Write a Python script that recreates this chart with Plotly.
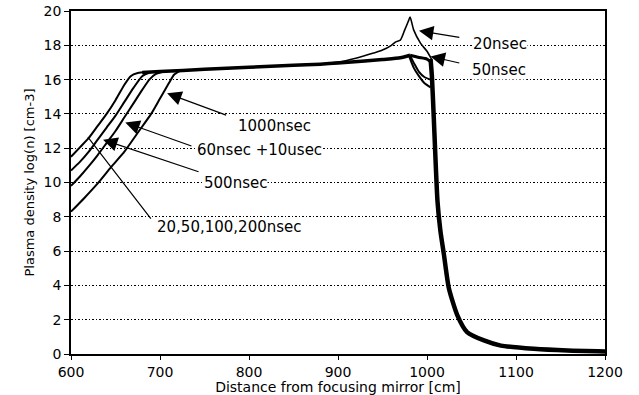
import plotly.graph_objects as go

# ---- data ----
# rising fronts (left side)
x_front_a = [600, 610, 620, 630, 640, 650, 660, 667, 675, 685]
y_front_a = [11.5, 12.05, 12.6, 13.3, 14.0, 14.8, 15.7, 16.2, 16.38, 16.44]   # 20,50,100,200 nsec
x_front_b = [600, 610, 620, 630, 640, 650, 660, 670, 680, 690]
y_front_b = [10.7, 11.2, 11.8, 12.5, 13.2, 13.9, 14.7, 15.5, 16.2, 16.44]     # 500 nsec
x_front_c = [600, 610, 620, 630, 640, 650, 660, 670, 680, 688, 695, 705]
y_front_c = [9.8, 10.35, 10.95, 11.6, 12.3, 13.0, 13.8, 14.6, 15.4, 16.0, 16.32, 16.47]  # 60nsec+10usec
x_front_d = [600, 615, 630, 645, 660, 675, 690, 700, 710, 716, 722]
y_front_d = [8.3, 9.1, 9.95, 10.9, 11.8, 12.9, 14.0, 14.9, 15.8, 16.3, 16.5]  # 1000 nsec

# common plateau
x_plateau = [680, 700, 750, 800, 850, 880, 900, 930, 950, 970, 981]
y_plateau = [16.42, 16.47, 16.6, 16.72, 16.83, 16.9, 16.97, 17.08, 17.17, 17.27, 17.42]

# 20 nsec spike
x_spike20 = [880, 900, 920, 940, 950, 960, 965, 970, 975, 979, 981, 985, 993, 1000, 1005]
y_spike20 = [16.9, 17.02, 17.25, 17.55, 17.72, 18.0, 18.2, 18.3, 18.9, 19.4, 19.65, 18.9, 18.1, 17.65, 17.2]

# branches after the peak
x_branch50 = [981, 990, 1000, 1005]
y_branch50 = [17.42, 17.3, 17.2, 17.0]
x_branch100 = [981, 986, 991, 997, 1004]
y_branch100 = [17.4, 16.9, 16.45, 16.15, 16.0]
x_branch200 = [980, 985, 991, 997, 1004]
y_branch200 = [17.35, 16.7, 16.2, 15.8, 15.55]

# common fall-off
x_tail = [1004, 1005.5, 1007.6, 1011.8, 1015, 1019, 1024.5, 1034, 1045, 1064, 1083, 1120, 1158, 1200]
y_tail = [17.2, 16.2, 13.8, 8.9, 7.2, 5.8, 3.85, 2.27, 1.28, 0.79, 0.49, 0.3, 0.2, 0.15]

x_ticks = [600, 700, 800, 900, 1000, 1100, 1200]
y_ticks = [0, 2, 4, 6, 8, 10, 12, 14, 16, 18, 20]

FONT = "DejaVu Sans"
fig = go.Figure()

def line(x, y, w, shape="spline"):
    fig.add_trace(go.Scatter(x=x, y=y, mode="lines",
                             line=dict(color="black", width=w, shape=shape, smoothing=0.6),
                             showlegend=False, hoverinfo="skip"))

line(x_front_a, y_front_a, 2)
line(x_front_b, y_front_b, 2)
line(x_front_c, y_front_c, 2)
line(x_front_d, y_front_d, 2)
line(x_plateau, y_plateau, 3.5)
line(x_spike20, y_spike20, 1.6)
line(x_branch50, y_branch50, 3)
line(x_branch100, y_branch100, 2)
line(x_branch200, y_branch200, 2)
line(x_tail, y_tail, 4.5)

# arrows: (tip x, tip y, tail x, tail y)
arrows = [
    (991, 18.85, 1038, 18.45),
    (1004, 17.35, 1038, 16.95),
    (708, 15.2, 776, 13.9),
    (661, 13.5, 737, 12.1),
    (636, 12.5, 745, 10.6),
]
for tx, ty, ax, ay in arrows:
    fig.add_annotation(x=tx, y=ty, ax=ax, ay=ay, xref="x", yref="y", axref="x", ayref="y",
                       text="", showarrow=True, arrowhead=2, arrowsize=2.4, arrowwidth=1.2,
                       arrowcolor="black", standoff=0)
# plain pointer line for 20,50,100,200nsec
fig.add_annotation(x=619, y=12.65, ax=691, ay=7.8, xref="x", yref="y", axref="x", ayref="y",
                   text="", showarrow=True, arrowhead=0, arrowwidth=1.2, arrowcolor="black", standoff=0)

labels = [
    ("20nsec", 1051, 18.1),
    ("50nsec", 1049, 16.55),
    ("1000nsec", 787, 13.3),
    ("60nsec +10usec", 740, 11.9),
    ("500nsec", 748, 10.0),
    ("20,50,100,200nsec", 696, 7.4),
]
for t, x, y in labels:
    fig.add_annotation(x=x, y=y, xref="x", yref="y", text=t, showarrow=False, xanchor="left",
                       yanchor="middle", bgcolor="white", borderpad=0,
                       font=dict(family=FONT, size=15, color="black"))

fig.update_layout(
    width=639, height=395,
    margin=dict(l=71, r=34, t=11, b=41),
    paper_bgcolor="white", plot_bgcolor="white",
    font=dict(family=FONT, color="black"),
    xaxis=dict(range=[600, 1200], tickvals=x_ticks, ticktext=[str(v) for v in x_ticks],
               ticks="outside", ticklen=4, tickwidth=1, tickcolor="black",
               showline=True, mirror=True, linecolor="black", linewidth=1.5,
               showgrid=False, zeroline=False, tickfont=dict(size=14), automargin=False,
               title=dict(text="Distance from focusing mirror [cm]", font=dict(size=14), standoff=2)),
    yaxis=dict(range=[0, 20], tickvals=y_ticks, ticktext=[str(v) for v in y_ticks],
               ticks="outside", ticklen=5, tickwidth=1, tickcolor="black",
               showline=True, mirror=True, linecolor="black", linewidth=1.5,
               showgrid=True, gridcolor="black", gridwidth=1, griddash="1.5px,2px",
               zeroline=False, tickfont=dict(size=14), automargin=False,
               title=dict(text="Plasma density log(n) [cm-3]", font=dict(size=13), standoff=6)),
)
fig.write_html("out.html", config={"displayModeBar": False},
               post_script="document.body.style.margin='0px';document.body.style.overflow='hidden';")
